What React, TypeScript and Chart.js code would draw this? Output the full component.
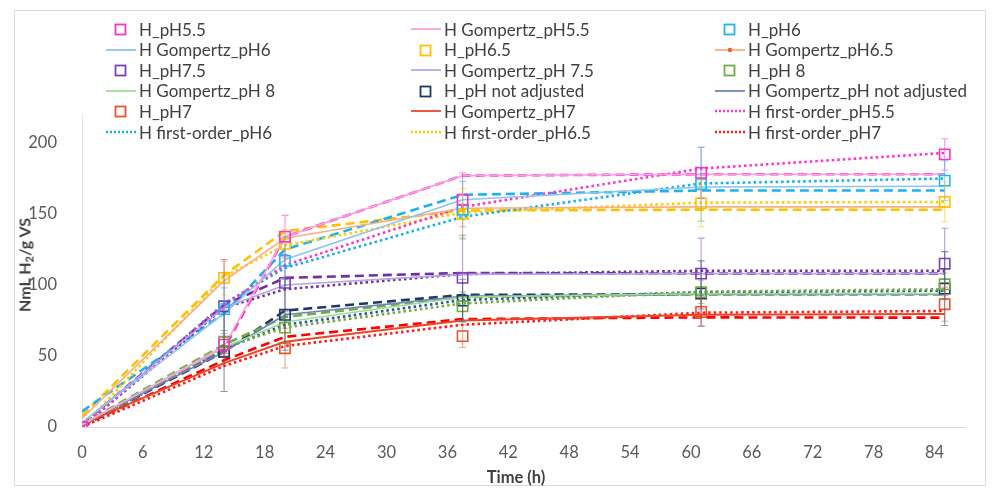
import React, { useEffect, useRef } from "react";
import { Chart, registerables } from "chart.js";

Chart.register(...registerables);

// ---------- data ----------
const TIME_H = [0, 14, 20, 37.5, 61, 85];
const X_TICKS = [0, 6, 12, 18, 24, 30, 36, 42, 48, 54, 60, 66, 72, 78, 84];
const Y_TICKS = [0, 50, 100, 150, 200];

// measured cumulative H2 (NmL H2/g VS)
const H_PH55 = [0, 58, 134, 160, 179, 192];
const H_PH6 = [0, 83, 117, 153, 171, 173.5];
const H_PH65 = [0, 105, 129, 150, 157.5, 158.5];
const H_PH75 = [0, 85, 101.5, 105, 108, 115];
const H_PH8 = [0, 60, 70, 85, 95, 100.5];
const H_PHNA = [0, 53, 79, 89, 94, 97.5];
const H_PH7 = [0, 53, 55.5, 64, 81, 86.5];

// standard deviations
const ERR_PH55 = [0, 8, 15, 19, 18, 11];
const ERR_PH6 = [0, 15, 17, 20, 26, 14];
const ERR_PH65 = [0, 12, 10, 18, 16.5, 14];
const ERR_PH75 = [0, 33, 20, 30, 25, 25];
const ERR_PH8 = [0, 8, 10, 10, 8, 8];
const ERR_PHNA = [0, 28, 25, 15, 23, 26];
const ERR_PH7 = [0, 10, 14, 8, 10, 12];

// Gompertz fits
const G_PH55 = [1.5, 57, 134, 177, 178, 178];
const G_PH6 = [3, 80, 118, 160, 169, 169.5];
const G_PH65 = [6, 103, 133, 154, 155, 155];
const G_PH75 = [3, 84, 100, 107.5, 108, 108];
const G_PH8 = [2, 56, 74, 91.5, 93.8, 93.8];
const G_PHNA = [2, 53, 79, 92, 93.5, 93.5];
const G_PH7 = [2, 45, 60, 75, 79, 79.5];

// dashed fits (not listed in the legend)
const D_PH55 = [1, 55, 134, 177, 178, 178];
const D_PH6 = [11, 80, 125, 163.5, 166.5, 166.5];
const D_PH65 = [8, 107, 138, 152.5, 153, 153];
const D_PH75 = [2, 86, 105, 108.5, 108, 108];
const D_PH8 = [2, 58, 77.5, 91.5, 93.5, 93.7];
const D_PHNA = [1, 53, 82, 93, 93.5, 93.5];
const D_PH7 = [1, 47, 63.5, 76, 77.2, 77];

// first-order fits
const F_PH55 = [0, 86, 114, 155, 182, 193];
const F_PH6 = [0, 87, 112, 148, 171.5, 175];
const F_PH65 = [0, 106, 128, 151, 158, 158.5];
const F_PH75 = [0, 84, 97, 107.7, 110, 110];
const F_PH8 = [0, 56, 70, 87, 95.3, 97];
const F_PHNA = [0, 55, 72, 89.4, 95, 96];
const F_PH7 = [0, 43, 57, 72, 80.5, 81.7];

// ---------- series specs ----------
type Kind = "measured" | "gompertz" | "gompertzDot" | "dashed" | "first";
interface Spec {
  label: string;
  kind: Kind;
  values: number[];
  color: string;
  err?: number[];
  legend: boolean;
}

const SERIES: Spec[] = [
  { label: "H_pH5.5", kind: "measured", values: H_PH55, err: ERR_PH55, color: "#F536CB", legend: true },
  { label: "H Gompertz_pH5.5", kind: "gompertz", values: G_PH55, color: "#F5A3DF", legend: true },
  { label: "H_pH6", kind: "measured", values: H_PH6, err: ERR_PH6, color: "#21B6F0", legend: true },
  { label: "H Gompertz_pH6", kind: "gompertz", values: G_PH6, color: "#8FC3EA", legend: true },
  { label: "H_pH6.5", kind: "measured", values: H_PH65, err: ERR_PH65, color: "#FFC000", legend: true },
  { label: "H Gompertz_pH6.5", kind: "gompertzDot", values: G_PH65, color: "#F4B183", legend: true },
  { label: "H_pH7.5", kind: "measured", values: H_PH75, err: ERR_PH75, color: "#7E3FBD", legend: true },
  { label: "H Gompertz_pH 7.5", kind: "gompertz", values: G_PH75, color: "#B7A6E4", legend: true },
  { label: "H_pH 8", kind: "measured", values: H_PH8, err: ERR_PH8, color: "#70AD47", legend: true },
  { label: "H Gompertz_pH 8", kind: "gompertz", values: G_PH8, color: "#9EDC93", legend: true },
  { label: "H_pH not adjusted", kind: "measured", values: H_PHNA, err: ERR_PHNA, color: "#203864", legend: true },
  { label: "H Gompertz_pH not adjusted", kind: "gompertz", values: G_PHNA, color: "#6F86B6", legend: true },
  { label: "H_pH7", kind: "measured", values: H_PH7, err: ERR_PH7, color: "#E4562B", legend: true },
  { label: "H Gompertz_pH7", kind: "gompertz", values: G_PH7, color: "#E8472A", legend: true },
  { label: "H first-order_pH5.5", kind: "first", values: F_PH55, color: "#FF33CC", legend: true },
  { label: "H first-order_pH6", kind: "first", values: F_PH6, color: "#12B0F0", legend: true },
  { label: "H first-order_pH6.5", kind: "first", values: F_PH65, color: "#FFCC00", legend: true },
  { label: "H first-order_pH7", kind: "first", values: F_PH7, color: "#FF1A1A", legend: true },
  { label: "H first-order_pH7.5", kind: "first", values: F_PH75, color: "#7030A0", legend: false },
  { label: "H first-order_pH 8", kind: "first", values: F_PH8, color: "#70AD47", legend: false },
  { label: "H first-order_pH not adjusted", kind: "first", values: F_PHNA, color: "#2F5597", legend: false },
  { label: "H fit (dashed)_pH5.5", kind: "dashed", values: D_PH55, color: "#FF33CC", legend: false },
  { label: "H fit (dashed)_pH6", kind: "dashed", values: D_PH6, color: "#1DB2EE", legend: false },
  { label: "H fit (dashed)_pH6.5", kind: "dashed", values: D_PH65, color: "#FFC000", legend: false },
  { label: "H fit (dashed)_pH7.5", kind: "dashed", values: D_PH75, color: "#7030A0", legend: false },
  { label: "H fit (dashed)_pH 8", kind: "dashed", values: D_PH8, color: "#70AD47", legend: false },
  { label: "H fit (dashed)_pH not adjusted", kind: "dashed", values: D_PHNA, color: "#203864", legend: false },
  { label: "H fit (dashed)_pH7", kind: "dashed", values: D_PH7, color: "#FF0000", legend: false },
];

const FONT = "Lato, 'Open Sans', sans-serif";

function toDataset(s: Spec): any {
  const data = TIME_H.map((t, i) => ({ x: t, y: s.values[i] }));
  const base: any = { label: s.label, data, borderColor: s.color, backgroundColor: s.color };
  if (s.kind === "measured") {
    return {
      ...base,
      showLine: false,
      pointStyle: "rect",
      pointRadius: 7.3,
      pointBorderWidth: 1.6,
      pointBorderColor: s.color,
      pointBackgroundColor: "rgba(255,255,255,0)",
      errors: s.err,
      order: 0,
    };
  }
  const line: any = { ...base, showLine: true, pointRadius: 0, tension: 0, fill: false, order: 1 };
  if (s.kind === "gompertz" || s.kind === "gompertzDot") {
    line.borderWidth = s.label.endsWith("pH7") ? 2 : 1.6;
  } else if (s.kind === "dashed") {
    line.borderWidth = 2.6;
    line.borderDash = [9, 5];
  } else {
    line.borderWidth = 2.6;
    line.borderDash = [2.5, 3];
  }
  return line;
}

const errorBarPlugin = {
  id: "errorBars",
  afterDatasetsDraw(chart: any) {
    const { ctx } = chart;
    const xs = chart.scales.x;
    const ys = chart.scales.y;
    chart.data.datasets.forEach((ds: any) => {
      if (!ds.errors) return;
      ctx.save();
      ctx.strokeStyle = ds.borderColor + "88";
      ctx.lineWidth = 1.1;
      ds.data.forEach((pt: any, j: number) => {
        const e = ds.errors[j];
        if (!e) return;
        const px = xs.getPixelForValue(pt.x);
        const top = ys.getPixelForValue(pt.y + e);
        const bot = ys.getPixelForValue(pt.y - e);
        ctx.beginPath();
        ctx.moveTo(px, top);
        ctx.lineTo(px, bot);
        ctx.moveTo(px - 3.5, top);
        ctx.lineTo(px + 3.5, top);
        ctx.moveTo(px - 3.5, bot);
        ctx.lineTo(px + 3.5, bot);
        ctx.stroke();
      });
      ctx.restore();
    });
  },
};

function LegendSymbol({ s }: { s: Spec }) {
  if (s.kind === "measured") {
    return (
      <svg width={30} height={14}>
        <rect x={9.5} y={2.5} width={10} height={10} fill="none" stroke={s.color} strokeWidth={1.8} />
      </svg>
    );
  }
  const dash = s.kind === "first" ? "2 2" : undefined;
  return (
    <svg width={30} height={14}>
      <line x1={0} x2={30} y1={7} y2={7} stroke={s.color} strokeWidth={s.kind === "first" ? 2.4 : 1.8} strokeDasharray={dash} />
      {s.kind === "gompertzDot" && <circle cx={15} cy={7} r={2.3} fill="#D9722E" />}
    </svg>
  );
}

const LEGEND_COL_X = [106, 411, 715];
const LEGEND_ROW_Y0 = 29;
const LEGEND_ROW_STEP = 20.6;

export default function App() {
  const canvasRef = useRef<HTMLCanvasElement | null>(null);

  useEffect(() => {
    let chart: Chart | null = null;
    let cancelled = false;
    const make = () => {
      if (cancelled || !canvasRef.current) return;
      chart = new Chart(canvasRef.current, {
        type: "scatter",
        data: { datasets: SERIES.map(toDataset) },
        options: {
          responsive: false,
          animation: false,
          events: [],
          layout: { padding: { top: 114.6, right: 30, bottom: 0, left: 0 } },
          plugins: { legend: { display: false }, tooltip: { enabled: false }, title: { display: false } },
          scales: {
            x: {
              type: "linear",
              min: 0,
              max: 87,
              grid: { display: false },
              border: { display: true, color: "#D9D9D9", width: 1 },
              ticks: { color: "#595959", font: { family: FONT, size: 16.5 }, padding: 8 },
              afterBuildTicks: (s: any) => {
                s.ticks = X_TICKS.map((v) => ({ value: v }));
              },
              afterFit: (s: any) => {
                s.height = 67;
              },
            },
            y: {
              type: "linear",
              min: 0,
              max: 220,
              grid: { display: false },
              border: { display: true, color: "#E6E6E6", width: 1 },
              ticks: { color: "#595959", font: { family: FONT, size: 16.5 }, padding: 17 },
              afterBuildTicks: (s: any) => {
                s.ticks = Y_TICKS.map((v) => ({ value: v }));
              },
              afterFit: (s: any) => {
                s.width = 82;
              },
            },
          },
        } as any,
        plugins: [errorBarPlugin],
      });
    };
    const fontsReady = (document as any).fonts
      ? Promise.all([
          (document as any).fonts.load("16px Lato"),
          (document as any).fonts.load("bold 16px Lato"),
        ]).catch(() => null)
      : Promise.resolve(null);
    fontsReady.then(make);
    return () => {
      cancelled = true;
      if (chart) chart.destroy();
    };
  }, []);

  const legendItems = SERIES.filter((s) => s.legend);

  return (
    <div style={{ position: "fixed", left: 0, top: 0, width: 995, height: 494, background: "#fff", overflow: "hidden" }}>
      <div
        style={{
          position: "absolute",
          left: 14,
          top: 10,
          width: 972,
          height: 476,
          border: "1px solid #D9D9D9",
          boxSizing: "border-box",
        }}
      />
      <canvas ref={canvasRef} width={995} height={494} style={{ position: "absolute", left: 0, top: 0 }} />
      {legendItems.map((s, i) => {
        const col = i % 3;
        const row = Math.floor(i / 3);
        const cy = LEGEND_ROW_Y0 + row * LEGEND_ROW_STEP;
        return (
          <div
            key={s.label}
            style={{
              position: "absolute",
              left: LEGEND_COL_X[col],
              top: cy - 10,
              height: 20,
              display: "flex",
              alignItems: "center",
              whiteSpace: "nowrap",
              fontFamily: FONT,
              fontSize: 17,
              color: "#404040",
            }}
          >
            <LegendSymbol s={s} />
            <span style={{ marginLeft: 3 }}>{s.label}</span>
          </div>
        );
      })}
      <div
        style={{
          position: "absolute",
          left: 25,
          top: 265,
          transform: "translate(-50%, -50%) rotate(-90deg)",
          whiteSpace: "nowrap",
          fontFamily: FONT,
          fontWeight: 700,
          fontSize: 16,
          color: "#404040",
        }}
      >
        NmL H<sub style={{ fontSize: 11, verticalAlign: "-3px" }}>2</sub>/g VS
      </div>
      <div
        style={{
          position: "absolute",
          left: 516,
          top: 477,
          transform: "translate(-50%, -50%)",
          whiteSpace: "nowrap",
          fontFamily: FONT,
          fontWeight: 700,
          fontSize: 16.5,
          color: "#404040",
        }}
      >
        Time (h)
      </div>
    </div>
  );
}
